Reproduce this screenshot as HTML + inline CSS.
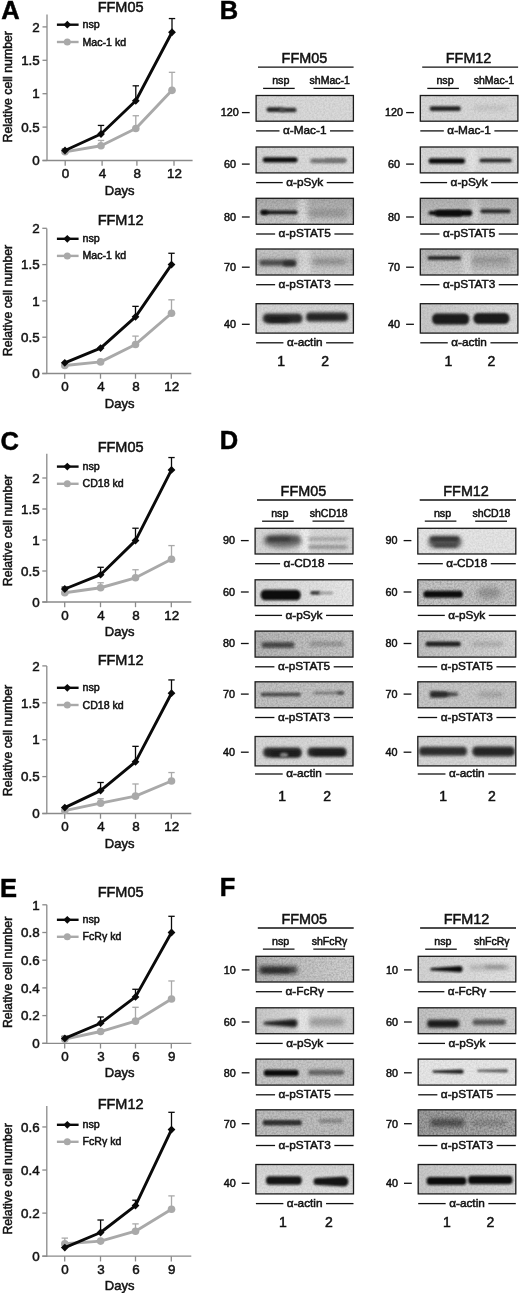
<!DOCTYPE html>
<html><head><meta charset="utf-8"><style>
html,body{margin:0;padding:0;background:#fff;width:520px;height:1293px;overflow:hidden}
svg{display:block;filter:grayscale(1)}
text{font-family:"Liberation Sans", sans-serif;stroke:#111;stroke-width:0.5px;paint-order:stroke}
</style></head><body>
<svg width="520" height="1293" viewBox="0 0 520 1293">
<defs><filter id="g8" x="-50%" y="-200%" width="200%" height="500%"><feGaussianBlur stdDeviation="0.80"/></filter><filter id="g10" x="-50%" y="-200%" width="200%" height="500%"><feGaussianBlur stdDeviation="1.00"/></filter><filter id="g11" x="-50%" y="-200%" width="200%" height="500%"><feGaussianBlur stdDeviation="1.10"/></filter><filter id="g12" x="-50%" y="-200%" width="200%" height="500%"><feGaussianBlur stdDeviation="1.20"/></filter><filter id="g13" x="-50%" y="-200%" width="200%" height="500%"><feGaussianBlur stdDeviation="1.30"/></filter><filter id="g14" x="-50%" y="-200%" width="200%" height="500%"><feGaussianBlur stdDeviation="1.40"/></filter><filter id="g15" x="-50%" y="-200%" width="200%" height="500%"><feGaussianBlur stdDeviation="1.50"/></filter><filter id="g16" x="-50%" y="-200%" width="200%" height="500%"><feGaussianBlur stdDeviation="1.60"/></filter><filter id="g17" x="-50%" y="-200%" width="200%" height="500%"><feGaussianBlur stdDeviation="1.70"/></filter><filter id="g18" x="-50%" y="-200%" width="200%" height="500%"><feGaussianBlur stdDeviation="1.80"/></filter><filter id="g19" x="-50%" y="-200%" width="200%" height="500%"><feGaussianBlur stdDeviation="1.90"/></filter><filter id="g20" x="-50%" y="-200%" width="200%" height="500%"><feGaussianBlur stdDeviation="2.00"/></filter><filter id="g22" x="-50%" y="-200%" width="200%" height="500%"><feGaussianBlur stdDeviation="2.20"/></filter><filter id="g24" x="-50%" y="-200%" width="200%" height="500%"><feGaussianBlur stdDeviation="2.40"/></filter><filter id="g25" x="-50%" y="-200%" width="200%" height="500%"><feGaussianBlur stdDeviation="2.50"/></filter><linearGradient id="lg2" x1="0" y1="0" x2="1" y2="0"><stop offset="0" stop-color="#d6d6d6"/><stop offset="1" stop-color="#e0e0e0"/></linearGradient><linearGradient id="lg3" x1="0" y1="0" x2="0" y2="1"><stop offset="0" stop-color="#aaaaaa"/><stop offset="0.5" stop-color="#bababa"/><stop offset="1" stop-color="#cccccc"/></linearGradient><linearGradient id="lg4" x1="0" y1="0" x2="0" y2="1"><stop offset="0" stop-color="#cacaca"/><stop offset="0.45" stop-color="#b8b8b8"/><stop offset="1" stop-color="#d0d0d0"/></linearGradient><linearGradient id="lg5" x1="0" y1="0" x2="0" y2="1"><stop offset="0" stop-color="#d4d4d4"/><stop offset="1" stop-color="#dcdcdc"/></linearGradient><linearGradient id="lg8" x1="0" y1="0" x2="0" y2="1"><stop offset="0" stop-color="#b2b2b2"/><stop offset="1" stop-color="#c8c8c8"/></linearGradient><linearGradient id="lg9" x1="0" y1="0" x2="0" y2="1"><stop offset="0" stop-color="#b6b6b6"/><stop offset="1" stop-color="#cacaca"/></linearGradient><linearGradient id="lg10" x1="0" y1="0" x2="1" y2="0"><stop offset="0" stop-color="#c8c8c8"/><stop offset="1" stop-color="#dadada"/></linearGradient><linearGradient id="lg12" x1="0" y1="0" x2="1" y2="0"><stop offset="0" stop-color="#d8d8d8"/><stop offset="1" stop-color="#e8e8e8"/></linearGradient><linearGradient id="lg13" x1="0" y1="0" x2="1" y2="0"><stop offset="0" stop-color="#b8b8b8"/><stop offset="1" stop-color="#cacaca"/></linearGradient><linearGradient id="lg18" x1="0" y1="0" x2="1" y2="0"><stop offset="0" stop-color="#c2c2c2"/><stop offset="1" stop-color="#d8d8d8"/></linearGradient><linearGradient id="lg21" x1="0" y1="0" x2="1" y2="0"><stop offset="0" stop-color="#b6b6b6"/><stop offset="0.5" stop-color="#c6c6c6"/><stop offset="1" stop-color="#d2d2d2"/></linearGradient><linearGradient id="lg22" x1="0" y1="0" x2="1" y2="0"><stop offset="0" stop-color="#c8c8c8"/><stop offset="0.45" stop-color="#dadada"/><stop offset="1" stop-color="#d4d4d4"/></linearGradient><linearGradient id="lg25" x1="0" y1="0" x2="0" y2="1"><stop offset="0" stop-color="#d4d4d4"/><stop offset="1" stop-color="#e0e0e0"/></linearGradient><linearGradient id="lg26" x1="0" y1="0" x2="1" y2="0"><stop offset="0" stop-color="#d4d4d4"/><stop offset="1" stop-color="#e2e2e2"/></linearGradient><linearGradient id="lg27" x1="0" y1="0" x2="1" y2="0"><stop offset="0" stop-color="#c4c4c4"/><stop offset="1" stop-color="#d4d4d4"/></linearGradient><linearGradient id="lg29" x1="0" y1="0" x2="1" y2="0"><stop offset="0" stop-color="#a0a0a0"/><stop offset="1" stop-color="#b0b0b0"/></linearGradient><linearGradient id="lg30" x1="0" y1="0" x2="1" y2="0"><stop offset="0" stop-color="#c8c8c8"/><stop offset="1" stop-color="#d8d8d8"/></linearGradient><filter id="nz" x="0" y="0" width="100%" height="100%"><feTurbulence type="fractalNoise" baseFrequency="0.55" numOctaves="2" seed="7" result="t"/><feColorMatrix in="t" type="matrix" values="0 0 0 0 0  0 0 0 0 0  0 0 0 0 0  0 0 0 -1.6 1.1"/></filter></defs>
<rect width="520" height="1293" fill="#fff"/>
<line x1="47.00" y1="14.40" x2="47.00" y2="161.00" stroke="#8a8a8a" stroke-width="1.3" />
<line x1="42.50" y1="160.50" x2="192.60" y2="160.50" stroke="#8a8a8a" stroke-width="1.3" />
<line x1="42.50" y1="160.50" x2="47.00" y2="160.50" stroke="#8a8a8a" stroke-width="1.3" />
<text x="39.80" y="165.25" font-size="13.4" text-anchor="end" fill="#111" >0</text>
<line x1="42.50" y1="127.10" x2="47.00" y2="127.10" stroke="#8a8a8a" stroke-width="1.3" />
<text x="39.80" y="131.85" font-size="13.4" text-anchor="end" fill="#111" >0.5</text>
<line x1="42.50" y1="93.70" x2="47.00" y2="93.70" stroke="#8a8a8a" stroke-width="1.3" />
<text x="39.80" y="98.45" font-size="13.4" text-anchor="end" fill="#111" >1</text>
<line x1="42.50" y1="60.30" x2="47.00" y2="60.30" stroke="#8a8a8a" stroke-width="1.3" />
<text x="39.80" y="65.05" font-size="13.4" text-anchor="end" fill="#111" >1.5</text>
<line x1="42.50" y1="26.90" x2="47.00" y2="26.90" stroke="#8a8a8a" stroke-width="1.3" />
<text x="39.80" y="31.65" font-size="13.4" text-anchor="end" fill="#111" >2</text>
<line x1="65.20" y1="160.50" x2="65.20" y2="165.70" stroke="#8a8a8a" stroke-width="1.3" />
<text x="65.60" y="178.00" font-size="13.4" text-anchor="middle" fill="#111" >0</text>
<line x1="102.10" y1="160.50" x2="102.10" y2="165.70" stroke="#8a8a8a" stroke-width="1.3" />
<text x="102.50" y="178.00" font-size="13.4" text-anchor="middle" fill="#111" >4</text>
<line x1="136.90" y1="160.50" x2="136.90" y2="165.70" stroke="#8a8a8a" stroke-width="1.3" />
<text x="137.30" y="178.00" font-size="13.4" text-anchor="middle" fill="#111" >8</text>
<line x1="174.00" y1="160.50" x2="174.00" y2="165.70" stroke="#8a8a8a" stroke-width="1.3" />
<text x="174.40" y="178.00" font-size="13.4" text-anchor="middle" fill="#111" >12</text>
<text x="119.60" y="194.50" font-size="13.0" text-anchor="middle" fill="#111" >Days</text>
<text x="120.60" y="11.90" font-size="14.5" text-anchor="middle" fill="#111" >FFM05</text>
<text transform="translate(12.4,86.80) rotate(-90)" font-size="12.3" text-anchor="middle" fill="#111">Relative cell number</text>
<line x1="56.90" y1="24.70" x2="78.60" y2="24.70" stroke="#0a0a0a" stroke-width="2.4" />
<polygon points="63.40,24.70 67.30,20.80 71.20,24.70 67.30,28.60" fill="#0a0a0a"/>
<text x="82.50" y="27.80" font-size="10.7" text-anchor="start" fill="#111" >nsp</text>
<line x1="56.90" y1="42.00" x2="78.60" y2="42.00" stroke="#a9a9a9" stroke-width="2.4" />
<circle cx="67.3" cy="42.00" r="3.5" fill="#a9a9a9"/>
<text x="82.50" y="45.50" font-size="10.6" text-anchor="start" fill="#111" >Mac-1 kd</text>
<line x1="101.00" y1="145.80" x2="101.00" y2="140.46" stroke="#a9a9a9" stroke-width="1.3" />
<line x1="97.80" y1="140.46" x2="104.20" y2="140.46" stroke="#a9a9a9" stroke-width="1.3" />
<line x1="135.80" y1="128.44" x2="135.80" y2="115.74" stroke="#a9a9a9" stroke-width="1.3" />
<line x1="132.60" y1="115.74" x2="139.00" y2="115.74" stroke="#a9a9a9" stroke-width="1.3" />
<line x1="172.00" y1="90.36" x2="172.00" y2="72.32" stroke="#a9a9a9" stroke-width="1.3" />
<line x1="168.80" y1="72.32" x2="175.20" y2="72.32" stroke="#a9a9a9" stroke-width="1.3" />
<line x1="65.00" y1="150.48" x2="65.00" y2="149.14" stroke="#0a0a0a" stroke-width="1.3" />
<line x1="61.80" y1="149.14" x2="68.20" y2="149.14" stroke="#0a0a0a" stroke-width="1.3" />
<line x1="101.00" y1="133.98" x2="101.00" y2="125.43" stroke="#0a0a0a" stroke-width="1.3" />
<line x1="97.80" y1="125.43" x2="104.20" y2="125.43" stroke="#0a0a0a" stroke-width="1.3" />
<line x1="135.80" y1="100.78" x2="135.80" y2="85.82" stroke="#0a0a0a" stroke-width="1.3" />
<line x1="132.60" y1="85.82" x2="139.00" y2="85.82" stroke="#0a0a0a" stroke-width="1.3" />
<line x1="172.00" y1="32.24" x2="172.00" y2="18.55" stroke="#0a0a0a" stroke-width="1.3" />
<line x1="168.80" y1="18.55" x2="175.20" y2="18.55" stroke="#0a0a0a" stroke-width="1.3" />
<polyline points="65.00,151.82 101.00,145.80 135.80,128.44 172.00,90.36" fill="none" stroke="#a9a9a9" stroke-width="2.9" stroke-linejoin="round"/>
<circle cx="65.00" cy="151.82" r="3.8" fill="#a9a9a9"/>
<circle cx="101.00" cy="145.80" r="3.8" fill="#a9a9a9"/>
<circle cx="135.80" cy="128.44" r="3.8" fill="#a9a9a9"/>
<circle cx="172.00" cy="90.36" r="3.8" fill="#a9a9a9"/>
<polyline points="65.00,150.48 101.00,133.98 135.80,100.78 172.00,32.24" fill="none" stroke="#0a0a0a" stroke-width="2.9" stroke-linejoin="round"/>
<polygon points="61.10,150.48 65.00,146.58 68.90,150.48 65.00,154.38" fill="#0a0a0a"/>
<polygon points="97.10,133.98 101.00,130.08 104.90,133.98 101.00,137.88" fill="#0a0a0a"/>
<polygon points="131.90,100.78 135.80,96.88 139.70,100.78 135.80,104.68" fill="#0a0a0a"/>
<polygon points="168.10,32.24 172.00,28.34 175.90,32.24 172.00,36.14" fill="#0a0a0a"/>
<line x1="46.80" y1="228.40" x2="46.80" y2="374.00" stroke="#8a8a8a" stroke-width="1.3" />
<line x1="42.30" y1="373.50" x2="191.30" y2="373.50" stroke="#8a8a8a" stroke-width="1.3" />
<line x1="42.30" y1="373.50" x2="46.80" y2="373.50" stroke="#8a8a8a" stroke-width="1.3" />
<text x="39.60" y="378.25" font-size="13.4" text-anchor="end" fill="#111" >0</text>
<line x1="42.30" y1="337.20" x2="46.80" y2="337.20" stroke="#8a8a8a" stroke-width="1.3" />
<text x="39.60" y="341.95" font-size="13.4" text-anchor="end" fill="#111" >0.5</text>
<line x1="42.30" y1="300.90" x2="46.80" y2="300.90" stroke="#8a8a8a" stroke-width="1.3" />
<text x="39.60" y="305.65" font-size="13.4" text-anchor="end" fill="#111" >1</text>
<line x1="42.30" y1="264.60" x2="46.80" y2="264.60" stroke="#8a8a8a" stroke-width="1.3" />
<text x="39.60" y="269.35" font-size="13.4" text-anchor="end" fill="#111" >1.5</text>
<line x1="42.30" y1="228.30" x2="46.80" y2="228.30" stroke="#8a8a8a" stroke-width="1.3" />
<text x="39.60" y="233.05" font-size="13.4" text-anchor="end" fill="#111" >2</text>
<line x1="64.70" y1="373.50" x2="64.70" y2="378.70" stroke="#8a8a8a" stroke-width="1.3" />
<text x="65.10" y="391.00" font-size="13.4" text-anchor="middle" fill="#111" >0</text>
<line x1="100.50" y1="373.50" x2="100.50" y2="378.70" stroke="#8a8a8a" stroke-width="1.3" />
<text x="100.90" y="391.00" font-size="13.4" text-anchor="middle" fill="#111" >4</text>
<line x1="135.50" y1="373.50" x2="135.50" y2="378.70" stroke="#8a8a8a" stroke-width="1.3" />
<text x="135.90" y="391.00" font-size="13.4" text-anchor="middle" fill="#111" >8</text>
<line x1="171.30" y1="373.50" x2="171.30" y2="378.70" stroke="#8a8a8a" stroke-width="1.3" />
<text x="171.70" y="391.00" font-size="13.4" text-anchor="middle" fill="#111" >12</text>
<text x="119.60" y="407.50" font-size="13.0" text-anchor="middle" fill="#111" >Days</text>
<text x="120.60" y="224.60" font-size="14.5" text-anchor="middle" fill="#111" >FFM12</text>
<text transform="translate(12.4,300.50) rotate(-90)" font-size="12.3" text-anchor="middle" fill="#111">Relative cell number</text>
<line x1="56.90" y1="238.80" x2="78.60" y2="238.80" stroke="#0a0a0a" stroke-width="2.4" />
<polygon points="63.40,238.80 67.30,234.90 71.20,238.80 67.30,242.70" fill="#0a0a0a"/>
<text x="82.50" y="241.90" font-size="10.7" text-anchor="start" fill="#111" >nsp</text>
<line x1="56.90" y1="255.90" x2="78.60" y2="255.90" stroke="#a9a9a9" stroke-width="2.4" />
<circle cx="67.3" cy="255.90" r="3.5" fill="#a9a9a9"/>
<text x="82.50" y="259.40" font-size="10.6" text-anchor="start" fill="#111" >Mac-1 kd</text>
<line x1="135.50" y1="344.46" x2="135.50" y2="336.11" stroke="#a9a9a9" stroke-width="1.3" />
<line x1="132.30" y1="336.11" x2="138.70" y2="336.11" stroke="#a9a9a9" stroke-width="1.3" />
<line x1="171.50" y1="313.24" x2="171.50" y2="299.81" stroke="#a9a9a9" stroke-width="1.3" />
<line x1="168.30" y1="299.81" x2="174.70" y2="299.81" stroke="#a9a9a9" stroke-width="1.3" />
<line x1="135.50" y1="316.87" x2="135.50" y2="306.35" stroke="#0a0a0a" stroke-width="1.3" />
<line x1="132.30" y1="306.35" x2="138.70" y2="306.35" stroke="#0a0a0a" stroke-width="1.3" />
<line x1="171.50" y1="264.60" x2="171.50" y2="253.27" stroke="#0a0a0a" stroke-width="1.3" />
<line x1="168.30" y1="253.27" x2="174.70" y2="253.27" stroke="#0a0a0a" stroke-width="1.3" />
<polyline points="64.80,365.51 100.60,361.88 135.50,344.46 171.50,313.24" fill="none" stroke="#a9a9a9" stroke-width="2.9" stroke-linejoin="round"/>
<circle cx="64.80" cy="365.51" r="3.8" fill="#a9a9a9"/>
<circle cx="100.60" cy="361.88" r="3.8" fill="#a9a9a9"/>
<circle cx="135.50" cy="344.46" r="3.8" fill="#a9a9a9"/>
<circle cx="171.50" cy="313.24" r="3.8" fill="#a9a9a9"/>
<polyline points="64.80,362.83 100.60,348.09 135.50,316.87 171.50,264.60" fill="none" stroke="#0a0a0a" stroke-width="2.9" stroke-linejoin="round"/>
<polygon points="60.90,362.83 64.80,358.93 68.70,362.83 64.80,366.73" fill="#0a0a0a"/>
<polygon points="96.70,348.09 100.60,344.19 104.50,348.09 100.60,351.99" fill="#0a0a0a"/>
<polygon points="131.60,316.87 135.50,312.97 139.40,316.87 135.50,320.77" fill="#0a0a0a"/>
<polygon points="167.60,264.60 171.50,260.70 175.40,264.60 171.50,268.50" fill="#0a0a0a"/>
<line x1="46.80" y1="453.70" x2="46.80" y2="602.50" stroke="#8a8a8a" stroke-width="1.3" />
<line x1="42.30" y1="602.00" x2="191.30" y2="602.00" stroke="#8a8a8a" stroke-width="1.3" />
<line x1="42.30" y1="602.00" x2="46.80" y2="602.00" stroke="#8a8a8a" stroke-width="1.3" />
<text x="39.60" y="606.75" font-size="13.4" text-anchor="end" fill="#111" >0</text>
<line x1="42.30" y1="571.00" x2="46.80" y2="571.00" stroke="#8a8a8a" stroke-width="1.3" />
<text x="39.60" y="575.75" font-size="13.4" text-anchor="end" fill="#111" >0.5</text>
<line x1="42.30" y1="540.00" x2="46.80" y2="540.00" stroke="#8a8a8a" stroke-width="1.3" />
<text x="39.60" y="544.75" font-size="13.4" text-anchor="end" fill="#111" >1</text>
<line x1="42.30" y1="509.00" x2="46.80" y2="509.00" stroke="#8a8a8a" stroke-width="1.3" />
<text x="39.60" y="513.75" font-size="13.4" text-anchor="end" fill="#111" >1.5</text>
<line x1="42.30" y1="478.00" x2="46.80" y2="478.00" stroke="#8a8a8a" stroke-width="1.3" />
<text x="39.60" y="482.75" font-size="13.4" text-anchor="end" fill="#111" >2</text>
<line x1="64.70" y1="602.00" x2="64.70" y2="607.20" stroke="#8a8a8a" stroke-width="1.3" />
<text x="65.10" y="619.50" font-size="13.4" text-anchor="middle" fill="#111" >0</text>
<line x1="100.50" y1="602.00" x2="100.50" y2="607.20" stroke="#8a8a8a" stroke-width="1.3" />
<text x="100.90" y="619.50" font-size="13.4" text-anchor="middle" fill="#111" >4</text>
<line x1="135.50" y1="602.00" x2="135.50" y2="607.20" stroke="#8a8a8a" stroke-width="1.3" />
<text x="135.90" y="619.50" font-size="13.4" text-anchor="middle" fill="#111" >8</text>
<line x1="171.30" y1="602.00" x2="171.30" y2="607.20" stroke="#8a8a8a" stroke-width="1.3" />
<text x="171.70" y="619.50" font-size="13.4" text-anchor="middle" fill="#111" >12</text>
<text x="119.60" y="636.00" font-size="13.0" text-anchor="middle" fill="#111" >Days</text>
<text x="120.60" y="452.10" font-size="14.5" text-anchor="middle" fill="#111" >FFM05</text>
<text transform="translate(12.4,530.50) rotate(-90)" font-size="12.3" text-anchor="middle" fill="#111">Relative cell number</text>
<line x1="56.90" y1="466.60" x2="78.60" y2="466.60" stroke="#0a0a0a" stroke-width="2.4" />
<polygon points="63.40,466.60 67.30,462.70 71.20,466.60 67.30,470.50" fill="#0a0a0a"/>
<text x="82.50" y="469.70" font-size="10.7" text-anchor="start" fill="#111" >nsp</text>
<line x1="56.90" y1="483.80" x2="78.60" y2="483.80" stroke="#a9a9a9" stroke-width="2.4" />
<circle cx="67.3" cy="483.80" r="3.5" fill="#a9a9a9"/>
<text x="82.50" y="487.30" font-size="10.6" text-anchor="start" fill="#111" >CD18 kd</text>
<line x1="100.60" y1="587.74" x2="100.60" y2="582.78" stroke="#a9a9a9" stroke-width="1.3" />
<line x1="97.40" y1="582.78" x2="103.80" y2="582.78" stroke="#a9a9a9" stroke-width="1.3" />
<line x1="135.50" y1="577.82" x2="135.50" y2="569.76" stroke="#a9a9a9" stroke-width="1.3" />
<line x1="132.30" y1="569.76" x2="138.70" y2="569.76" stroke="#a9a9a9" stroke-width="1.3" />
<line x1="171.50" y1="559.22" x2="171.50" y2="545.58" stroke="#a9a9a9" stroke-width="1.3" />
<line x1="168.30" y1="545.58" x2="174.70" y2="545.58" stroke="#a9a9a9" stroke-width="1.3" />
<line x1="64.80" y1="588.98" x2="64.80" y2="587.12" stroke="#0a0a0a" stroke-width="1.3" />
<line x1="61.60" y1="587.12" x2="68.00" y2="587.12" stroke="#0a0a0a" stroke-width="1.3" />
<line x1="100.60" y1="574.72" x2="100.60" y2="567.28" stroke="#0a0a0a" stroke-width="1.3" />
<line x1="97.40" y1="567.28" x2="103.80" y2="567.28" stroke="#0a0a0a" stroke-width="1.3" />
<line x1="135.50" y1="540.62" x2="135.50" y2="528.22" stroke="#0a0a0a" stroke-width="1.3" />
<line x1="132.30" y1="528.22" x2="138.70" y2="528.22" stroke="#0a0a0a" stroke-width="1.3" />
<line x1="171.50" y1="469.94" x2="171.50" y2="457.54" stroke="#0a0a0a" stroke-width="1.3" />
<line x1="168.30" y1="457.54" x2="174.70" y2="457.54" stroke="#0a0a0a" stroke-width="1.3" />
<polyline points="64.80,592.70 100.60,587.74 135.50,577.82 171.50,559.22" fill="none" stroke="#a9a9a9" stroke-width="2.9" stroke-linejoin="round"/>
<circle cx="64.80" cy="592.70" r="3.8" fill="#a9a9a9"/>
<circle cx="100.60" cy="587.74" r="3.8" fill="#a9a9a9"/>
<circle cx="135.50" cy="577.82" r="3.8" fill="#a9a9a9"/>
<circle cx="171.50" cy="559.22" r="3.8" fill="#a9a9a9"/>
<polyline points="64.80,588.98 100.60,574.72 135.50,540.62 171.50,469.94" fill="none" stroke="#0a0a0a" stroke-width="2.9" stroke-linejoin="round"/>
<polygon points="60.90,588.98 64.80,585.08 68.70,588.98 64.80,592.88" fill="#0a0a0a"/>
<polygon points="96.70,574.72 100.60,570.82 104.50,574.72 100.60,578.62" fill="#0a0a0a"/>
<polygon points="131.60,540.62 135.50,536.72 139.40,540.62 135.50,544.52" fill="#0a0a0a"/>
<polygon points="167.60,469.94 171.50,466.04 175.40,469.94 171.50,473.84" fill="#0a0a0a"/>
<line x1="46.80" y1="665.90" x2="46.80" y2="814.00" stroke="#8a8a8a" stroke-width="1.3" />
<line x1="42.30" y1="813.50" x2="191.30" y2="813.50" stroke="#8a8a8a" stroke-width="1.3" />
<line x1="42.30" y1="813.50" x2="46.80" y2="813.50" stroke="#8a8a8a" stroke-width="1.3" />
<text x="39.60" y="818.25" font-size="13.4" text-anchor="end" fill="#111" >0</text>
<line x1="42.30" y1="776.60" x2="46.80" y2="776.60" stroke="#8a8a8a" stroke-width="1.3" />
<text x="39.60" y="781.35" font-size="13.4" text-anchor="end" fill="#111" >0.5</text>
<line x1="42.30" y1="739.70" x2="46.80" y2="739.70" stroke="#8a8a8a" stroke-width="1.3" />
<text x="39.60" y="744.45" font-size="13.4" text-anchor="end" fill="#111" >1</text>
<line x1="42.30" y1="702.80" x2="46.80" y2="702.80" stroke="#8a8a8a" stroke-width="1.3" />
<text x="39.60" y="707.55" font-size="13.4" text-anchor="end" fill="#111" >1.5</text>
<line x1="42.30" y1="665.90" x2="46.80" y2="665.90" stroke="#8a8a8a" stroke-width="1.3" />
<text x="39.60" y="670.65" font-size="13.4" text-anchor="end" fill="#111" >2</text>
<line x1="64.70" y1="813.50" x2="64.70" y2="818.70" stroke="#8a8a8a" stroke-width="1.3" />
<text x="65.10" y="831.00" font-size="13.4" text-anchor="middle" fill="#111" >0</text>
<line x1="100.50" y1="813.50" x2="100.50" y2="818.70" stroke="#8a8a8a" stroke-width="1.3" />
<text x="100.90" y="831.00" font-size="13.4" text-anchor="middle" fill="#111" >4</text>
<line x1="135.50" y1="813.50" x2="135.50" y2="818.70" stroke="#8a8a8a" stroke-width="1.3" />
<text x="135.90" y="831.00" font-size="13.4" text-anchor="middle" fill="#111" >8</text>
<line x1="171.30" y1="813.50" x2="171.30" y2="818.70" stroke="#8a8a8a" stroke-width="1.3" />
<text x="171.70" y="831.00" font-size="13.4" text-anchor="middle" fill="#111" >12</text>
<text x="119.60" y="847.50" font-size="13.0" text-anchor="middle" fill="#111" >Days</text>
<text x="120.60" y="664.80" font-size="14.5" text-anchor="middle" fill="#111" >FFM12</text>
<text transform="translate(12.4,740.50) rotate(-90)" font-size="12.3" text-anchor="middle" fill="#111">Relative cell number</text>
<line x1="56.90" y1="687.80" x2="78.60" y2="687.80" stroke="#0a0a0a" stroke-width="2.4" />
<polygon points="63.40,687.80 67.30,683.90 71.20,687.80 67.30,691.70" fill="#0a0a0a"/>
<text x="82.50" y="690.90" font-size="10.7" text-anchor="start" fill="#111" >nsp</text>
<line x1="56.90" y1="705.00" x2="78.60" y2="705.00" stroke="#a9a9a9" stroke-width="2.4" />
<circle cx="67.3" cy="705.00" r="3.5" fill="#a9a9a9"/>
<text x="82.50" y="708.50" font-size="10.6" text-anchor="start" fill="#111" >CD18 kd</text>
<line x1="100.60" y1="803.17" x2="100.60" y2="798.74" stroke="#a9a9a9" stroke-width="1.3" />
<line x1="97.40" y1="798.74" x2="103.80" y2="798.74" stroke="#a9a9a9" stroke-width="1.3" />
<line x1="135.50" y1="796.16" x2="135.50" y2="783.98" stroke="#a9a9a9" stroke-width="1.3" />
<line x1="132.30" y1="783.98" x2="138.70" y2="783.98" stroke="#a9a9a9" stroke-width="1.3" />
<line x1="171.50" y1="781.03" x2="171.50" y2="772.54" stroke="#a9a9a9" stroke-width="1.3" />
<line x1="168.30" y1="772.54" x2="174.70" y2="772.54" stroke="#a9a9a9" stroke-width="1.3" />
<line x1="100.60" y1="790.62" x2="100.60" y2="782.50" stroke="#0a0a0a" stroke-width="1.3" />
<line x1="97.40" y1="782.50" x2="103.80" y2="782.50" stroke="#0a0a0a" stroke-width="1.3" />
<line x1="135.50" y1="761.84" x2="135.50" y2="746.34" stroke="#0a0a0a" stroke-width="1.3" />
<line x1="132.30" y1="746.34" x2="138.70" y2="746.34" stroke="#0a0a0a" stroke-width="1.3" />
<line x1="171.50" y1="693.21" x2="171.50" y2="679.92" stroke="#0a0a0a" stroke-width="1.3" />
<line x1="168.30" y1="679.92" x2="174.70" y2="679.92" stroke="#0a0a0a" stroke-width="1.3" />
<polyline points="64.80,810.55 100.60,803.17 135.50,796.16 171.50,781.03" fill="none" stroke="#a9a9a9" stroke-width="2.9" stroke-linejoin="round"/>
<circle cx="64.80" cy="810.55" r="3.8" fill="#a9a9a9"/>
<circle cx="100.60" cy="803.17" r="3.8" fill="#a9a9a9"/>
<circle cx="135.50" cy="796.16" r="3.8" fill="#a9a9a9"/>
<circle cx="171.50" cy="781.03" r="3.8" fill="#a9a9a9"/>
<polyline points="64.80,807.60 100.60,790.62 135.50,761.84 171.50,693.21" fill="none" stroke="#0a0a0a" stroke-width="2.9" stroke-linejoin="round"/>
<polygon points="60.90,807.60 64.80,803.70 68.70,807.60 64.80,811.50" fill="#0a0a0a"/>
<polygon points="96.70,790.62 100.60,786.72 104.50,790.62 100.60,794.52" fill="#0a0a0a"/>
<polygon points="131.60,761.84 135.50,757.94 139.40,761.84 135.50,765.74" fill="#0a0a0a"/>
<polygon points="167.60,693.21 171.50,689.31 175.40,693.21 171.50,697.11" fill="#0a0a0a"/>
<line x1="46.80" y1="904.70" x2="46.80" y2="1043.80" stroke="#8a8a8a" stroke-width="1.3" />
<line x1="42.30" y1="1043.30" x2="191.30" y2="1043.30" stroke="#8a8a8a" stroke-width="1.3" />
<line x1="42.30" y1="1043.30" x2="46.80" y2="1043.30" stroke="#8a8a8a" stroke-width="1.3" />
<text x="39.60" y="1048.05" font-size="13.4" text-anchor="end" fill="#111" >0</text>
<line x1="42.30" y1="1015.60" x2="46.80" y2="1015.60" stroke="#8a8a8a" stroke-width="1.3" />
<text x="39.60" y="1020.35" font-size="13.4" text-anchor="end" fill="#111" >0.2</text>
<line x1="42.30" y1="987.90" x2="46.80" y2="987.90" stroke="#8a8a8a" stroke-width="1.3" />
<text x="39.60" y="992.65" font-size="13.4" text-anchor="end" fill="#111" >0.4</text>
<line x1="42.30" y1="960.20" x2="46.80" y2="960.20" stroke="#8a8a8a" stroke-width="1.3" />
<text x="39.60" y="964.95" font-size="13.4" text-anchor="end" fill="#111" >0.6</text>
<line x1="42.30" y1="932.50" x2="46.80" y2="932.50" stroke="#8a8a8a" stroke-width="1.3" />
<text x="39.60" y="937.25" font-size="13.4" text-anchor="end" fill="#111" >0.8</text>
<line x1="42.30" y1="904.80" x2="46.80" y2="904.80" stroke="#8a8a8a" stroke-width="1.3" />
<text x="39.60" y="909.55" font-size="13.4" text-anchor="end" fill="#111" >1</text>
<line x1="64.70" y1="1043.30" x2="64.70" y2="1048.50" stroke="#8a8a8a" stroke-width="1.3" />
<text x="65.10" y="1060.80" font-size="13.4" text-anchor="middle" fill="#111" >0</text>
<line x1="100.50" y1="1043.30" x2="100.50" y2="1048.50" stroke="#8a8a8a" stroke-width="1.3" />
<text x="100.90" y="1060.80" font-size="13.4" text-anchor="middle" fill="#111" >3</text>
<line x1="135.50" y1="1043.30" x2="135.50" y2="1048.50" stroke="#8a8a8a" stroke-width="1.3" />
<text x="135.90" y="1060.80" font-size="13.4" text-anchor="middle" fill="#111" >6</text>
<line x1="171.30" y1="1043.30" x2="171.30" y2="1048.50" stroke="#8a8a8a" stroke-width="1.3" />
<text x="171.70" y="1060.80" font-size="13.4" text-anchor="middle" fill="#111" >9</text>
<text x="119.60" y="1077.30" font-size="13.0" text-anchor="middle" fill="#111" >Days</text>
<text x="120.60" y="897.20" font-size="14.5" text-anchor="middle" fill="#111" >FFM05</text>
<text transform="translate(12.4,972.40) rotate(-90)" font-size="12.3" text-anchor="middle" fill="#111">Relative cell number</text>
<line x1="56.90" y1="919.80" x2="78.60" y2="919.80" stroke="#0a0a0a" stroke-width="2.4" />
<polygon points="63.40,919.80 67.30,915.90 71.20,919.80 67.30,923.70" fill="#0a0a0a"/>
<text x="82.50" y="922.90" font-size="10.7" text-anchor="start" fill="#111" >nsp</text>
<line x1="56.90" y1="936.80" x2="78.60" y2="936.80" stroke="#a9a9a9" stroke-width="2.4" />
<circle cx="67.3" cy="936.80" r="3.5" fill="#a9a9a9"/>
<text x="82.50" y="940.30" font-size="10.6" text-anchor="start" fill="#111" >FcRγ kd</text>
<line x1="64.80" y1="1039.14" x2="64.80" y2="1036.38" stroke="#a9a9a9" stroke-width="1.3" />
<line x1="61.60" y1="1036.38" x2="68.00" y2="1036.38" stroke="#a9a9a9" stroke-width="1.3" />
<line x1="135.50" y1="1021.14" x2="135.50" y2="1007.29" stroke="#a9a9a9" stroke-width="1.3" />
<line x1="132.30" y1="1007.29" x2="138.70" y2="1007.29" stroke="#a9a9a9" stroke-width="1.3" />
<line x1="171.50" y1="998.98" x2="171.50" y2="980.97" stroke="#a9a9a9" stroke-width="1.3" />
<line x1="168.30" y1="980.97" x2="174.70" y2="980.97" stroke="#a9a9a9" stroke-width="1.3" />
<line x1="64.80" y1="1038.45" x2="64.80" y2="1036.38" stroke="#0a0a0a" stroke-width="1.3" />
<line x1="61.60" y1="1036.38" x2="68.00" y2="1036.38" stroke="#0a0a0a" stroke-width="1.3" />
<line x1="100.60" y1="1023.22" x2="100.60" y2="1016.98" stroke="#0a0a0a" stroke-width="1.3" />
<line x1="97.40" y1="1016.98" x2="103.80" y2="1016.98" stroke="#0a0a0a" stroke-width="1.3" />
<line x1="135.50" y1="996.90" x2="135.50" y2="989.28" stroke="#0a0a0a" stroke-width="1.3" />
<line x1="132.30" y1="989.28" x2="138.70" y2="989.28" stroke="#0a0a0a" stroke-width="1.3" />
<line x1="171.50" y1="932.50" x2="171.50" y2="916.30" stroke="#0a0a0a" stroke-width="1.3" />
<line x1="168.30" y1="916.30" x2="174.70" y2="916.30" stroke="#0a0a0a" stroke-width="1.3" />
<polyline points="64.80,1039.14 100.60,1031.53 135.50,1021.14 171.50,998.98" fill="none" stroke="#a9a9a9" stroke-width="2.9" stroke-linejoin="round"/>
<circle cx="64.80" cy="1039.14" r="3.8" fill="#a9a9a9"/>
<circle cx="100.60" cy="1031.53" r="3.8" fill="#a9a9a9"/>
<circle cx="135.50" cy="1021.14" r="3.8" fill="#a9a9a9"/>
<circle cx="171.50" cy="998.98" r="3.8" fill="#a9a9a9"/>
<polyline points="64.80,1038.45 100.60,1023.22 135.50,996.90 171.50,932.50" fill="none" stroke="#0a0a0a" stroke-width="2.9" stroke-linejoin="round"/>
<polygon points="60.90,1038.45 64.80,1034.55 68.70,1038.45 64.80,1042.35" fill="#0a0a0a"/>
<polygon points="96.70,1023.22 100.60,1019.32 104.50,1023.22 100.60,1027.12" fill="#0a0a0a"/>
<polygon points="131.60,996.90 135.50,993.00 139.40,996.90 135.50,1000.80" fill="#0a0a0a"/>
<polygon points="167.60,932.50 171.50,928.60 175.40,932.50 171.50,936.40" fill="#0a0a0a"/>
<line x1="46.80" y1="1105.90" x2="46.80" y2="1256.70" stroke="#8a8a8a" stroke-width="1.3" />
<line x1="42.30" y1="1256.20" x2="191.30" y2="1256.20" stroke="#8a8a8a" stroke-width="1.3" />
<line x1="42.30" y1="1256.20" x2="46.80" y2="1256.20" stroke="#8a8a8a" stroke-width="1.3" />
<text x="39.60" y="1260.95" font-size="13.4" text-anchor="end" fill="#111" >0</text>
<line x1="42.30" y1="1213.12" x2="46.80" y2="1213.12" stroke="#8a8a8a" stroke-width="1.3" />
<text x="39.60" y="1217.87" font-size="13.4" text-anchor="end" fill="#111" >0.2</text>
<line x1="42.30" y1="1170.04" x2="46.80" y2="1170.04" stroke="#8a8a8a" stroke-width="1.3" />
<text x="39.60" y="1174.79" font-size="13.4" text-anchor="end" fill="#111" >0.4</text>
<line x1="42.30" y1="1126.96" x2="46.80" y2="1126.96" stroke="#8a8a8a" stroke-width="1.3" />
<text x="39.60" y="1131.71" font-size="13.4" text-anchor="end" fill="#111" >0.6</text>
<line x1="64.70" y1="1256.20" x2="64.70" y2="1261.40" stroke="#8a8a8a" stroke-width="1.3" />
<text x="65.10" y="1273.70" font-size="13.4" text-anchor="middle" fill="#111" >0</text>
<line x1="100.50" y1="1256.20" x2="100.50" y2="1261.40" stroke="#8a8a8a" stroke-width="1.3" />
<text x="100.90" y="1273.70" font-size="13.4" text-anchor="middle" fill="#111" >3</text>
<line x1="135.50" y1="1256.20" x2="135.50" y2="1261.40" stroke="#8a8a8a" stroke-width="1.3" />
<text x="135.90" y="1273.70" font-size="13.4" text-anchor="middle" fill="#111" >6</text>
<line x1="171.30" y1="1256.20" x2="171.30" y2="1261.40" stroke="#8a8a8a" stroke-width="1.3" />
<text x="171.70" y="1273.70" font-size="13.4" text-anchor="middle" fill="#111" >9</text>
<text x="119.60" y="1290.20" font-size="13.0" text-anchor="middle" fill="#111" >Days</text>
<text x="120.60" y="1109.30" font-size="14.5" text-anchor="middle" fill="#111" >FFM12</text>
<text transform="translate(12.4,1178.90) rotate(-90)" font-size="12.3" text-anchor="middle" fill="#111">Relative cell number</text>
<line x1="56.90" y1="1124.80" x2="78.60" y2="1124.80" stroke="#0a0a0a" stroke-width="2.4" />
<polygon points="63.40,1124.80 67.30,1120.90 71.20,1124.80 67.30,1128.70" fill="#0a0a0a"/>
<text x="82.50" y="1127.90" font-size="10.7" text-anchor="start" fill="#111" >nsp</text>
<line x1="56.90" y1="1141.80" x2="78.60" y2="1141.80" stroke="#a9a9a9" stroke-width="2.4" />
<circle cx="67.3" cy="1141.80" r="3.5" fill="#a9a9a9"/>
<text x="82.50" y="1145.30" font-size="10.6" text-anchor="start" fill="#111" >FcRγ kd</text>
<line x1="64.80" y1="1243.71" x2="64.80" y2="1238.11" stroke="#a9a9a9" stroke-width="1.3" />
<line x1="61.60" y1="1238.11" x2="68.00" y2="1238.11" stroke="#a9a9a9" stroke-width="1.3" />
<line x1="135.50" y1="1231.21" x2="135.50" y2="1223.89" stroke="#a9a9a9" stroke-width="1.3" />
<line x1="132.30" y1="1223.89" x2="138.70" y2="1223.89" stroke="#a9a9a9" stroke-width="1.3" />
<line x1="171.50" y1="1209.24" x2="171.50" y2="1195.89" stroke="#a9a9a9" stroke-width="1.3" />
<line x1="168.30" y1="1195.89" x2="174.70" y2="1195.89" stroke="#a9a9a9" stroke-width="1.3" />
<line x1="100.60" y1="1232.51" x2="100.60" y2="1220.01" stroke="#0a0a0a" stroke-width="1.3" />
<line x1="97.40" y1="1220.01" x2="103.80" y2="1220.01" stroke="#0a0a0a" stroke-width="1.3" />
<line x1="135.50" y1="1205.58" x2="135.50" y2="1200.20" stroke="#0a0a0a" stroke-width="1.3" />
<line x1="132.30" y1="1200.20" x2="138.70" y2="1200.20" stroke="#0a0a0a" stroke-width="1.3" />
<line x1="171.50" y1="1129.54" x2="171.50" y2="1112.31" stroke="#0a0a0a" stroke-width="1.3" />
<line x1="168.30" y1="1112.31" x2="174.70" y2="1112.31" stroke="#0a0a0a" stroke-width="1.3" />
<polyline points="64.80,1243.71 100.60,1241.12 135.50,1231.21 171.50,1209.24" fill="none" stroke="#a9a9a9" stroke-width="2.9" stroke-linejoin="round"/>
<circle cx="64.80" cy="1243.71" r="3.8" fill="#a9a9a9"/>
<circle cx="100.60" cy="1241.12" r="3.8" fill="#a9a9a9"/>
<circle cx="135.50" cy="1231.21" r="3.8" fill="#a9a9a9"/>
<circle cx="171.50" cy="1209.24" r="3.8" fill="#a9a9a9"/>
<polyline points="64.80,1247.58 100.60,1232.51 135.50,1205.58 171.50,1129.54" fill="none" stroke="#0a0a0a" stroke-width="2.9" stroke-linejoin="round"/>
<polygon points="60.90,1247.58 64.80,1243.68 68.70,1247.58 64.80,1251.48" fill="#0a0a0a"/>
<polygon points="96.70,1232.51 100.60,1228.61 104.50,1232.51 100.60,1236.41" fill="#0a0a0a"/>
<polygon points="131.60,1205.58 135.50,1201.68 139.40,1205.58 135.50,1209.48" fill="#0a0a0a"/>
<polygon points="167.60,1129.54 171.50,1125.64 175.40,1129.54 171.50,1133.44" fill="#0a0a0a"/>
<text x="1.30" y="19.20" font-size="25.5" text-anchor="start" font-weight="bold" fill="#000" >A</text>
<text x="219.70" y="19.20" font-size="25.5" text-anchor="start" font-weight="bold" fill="#000" >B</text>
<text x="0.40" y="449.90" font-size="25.5" text-anchor="start" font-weight="bold" fill="#000" >C</text>
<text x="219.70" y="449.10" font-size="25.5" text-anchor="start" font-weight="bold" fill="#000" >D</text>
<text x="0.00" y="896.60" font-size="25.5" text-anchor="start" font-weight="bold" fill="#000" >E</text>
<text x="219.70" y="896.00" font-size="25.5" text-anchor="start" font-weight="bold" fill="#000" >F</text>
<text x="304.40" y="62.80" font-size="14.4" text-anchor="middle" fill="#111" >FFM05</text>
<line x1="258.00" y1="67.20" x2="353.60" y2="67.20" stroke="#111" stroke-width="1.3" />
<text x="280.80" y="83.70" font-size="10.7" text-anchor="middle" fill="#111" >nsp</text>
<line x1="263.10" y1="88.40" x2="294.70" y2="88.40" stroke="#111" stroke-width="1.3" />
<text x="329.70" y="83.70" font-size="10.5" text-anchor="middle" fill="#111" >shMac-1</text>
<line x1="313.50" y1="88.40" x2="345.30" y2="88.40" stroke="#111" stroke-width="1.3" />
<text x="238.80" y="116.40" font-size="10.8" text-anchor="end" fill="#111" >120</text>
<line x1="241.90" y1="112.60" x2="249.70" y2="112.60" stroke="#111" stroke-width="1.3" />
<text x="304.75" y="134.10" font-size="11.8" text-anchor="middle" fill="#111" >α-Mac-1</text>
<line x1="256.10" y1="130.90" x2="279.48" y2="130.90" stroke="#111" stroke-width="1.3" />
<line x1="330.02" y1="130.90" x2="353.40" y2="130.90" stroke="#111" stroke-width="1.3" />
<clipPath id="c0"><rect x="256.10" y="95.50" width="97.30" height="25.70"/></clipPath>
<rect x="256.10" y="95.50" width="97.30" height="25.70" fill="#dadada"/>
<g clip-path="url(#c0)">
<rect x="266.50" y="107.20" width="16.00" height="4.80" rx="1.92" ry="2.40" fill="#262626" opacity="1.0" filter="url(#g11)"/>
<rect x="280.50" y="107.65" width="16.00" height="4.50" rx="1.80" ry="2.25" fill="#2e2e2e" opacity="1.0" filter="url(#g11)"/>
<rect x="279.00" y="108.30" width="6.00" height="3.00" rx="1.20" ry="1.50" fill="#555" opacity="1.0" filter="url(#g8)"/>
<rect x="256.10" y="95.50" width="97.30" height="25.70" fill="#fff" filter="url(#nz)" opacity="0.1"/>
</g>
<rect x="256.10" y="95.50" width="97.30" height="25.70" fill="none" stroke="#1a1a1a" stroke-width="1.3"/>
<text x="235.90" y="167.90" font-size="10.8" text-anchor="end" fill="#111" >60</text>
<line x1="241.90" y1="164.10" x2="249.70" y2="164.10" stroke="#111" stroke-width="1.3" />
<text x="304.75" y="185.80" font-size="11.8" text-anchor="middle" fill="#111" >α-pSyk</text>
<line x1="256.10" y1="182.60" x2="282.76" y2="182.60" stroke="#111" stroke-width="1.3" />
<line x1="326.74" y1="182.60" x2="353.40" y2="182.60" stroke="#111" stroke-width="1.3" />
<clipPath id="c1"><rect x="256.10" y="147.00" width="97.30" height="25.90"/></clipPath>
<rect x="256.10" y="147.00" width="97.30" height="25.90" fill="url(#lg2)"/>
<g clip-path="url(#c1)">
<rect x="262.70" y="157.20" width="34.90" height="5.20" rx="2.08" ry="2.60" fill="#111" opacity="1.0" filter="url(#g12)"/>
<rect x="310.30" y="158.70" width="36.00" height="4.20" rx="1.68" ry="2.10" fill="#6a6a6a" opacity="1.0" filter="url(#g14)"/>
<rect x="325.00" y="158.50" width="21.30" height="3.00" rx="1.20" ry="1.50" fill="#777" opacity="1.0" filter="url(#g12)"/>
<rect x="256.10" y="147.00" width="97.30" height="25.90" fill="#fff" filter="url(#nz)" opacity="0.1"/>
</g>
<rect x="256.10" y="147.00" width="97.30" height="25.90" fill="none" stroke="#1a1a1a" stroke-width="1.3"/>
<text x="235.90" y="220.80" font-size="10.8" text-anchor="end" fill="#111" >80</text>
<line x1="241.90" y1="217.00" x2="249.70" y2="217.00" stroke="#111" stroke-width="1.3" />
<text x="304.75" y="237.20" font-size="11.8" text-anchor="middle" fill="#111" >α-pSTAT5</text>
<line x1="256.10" y1="234.00" x2="275.11" y2="234.00" stroke="#111" stroke-width="1.3" />
<line x1="334.39" y1="234.00" x2="353.40" y2="234.00" stroke="#111" stroke-width="1.3" />
<clipPath id="c2"><rect x="256.10" y="198.30" width="97.30" height="26.00"/></clipPath>
<rect x="256.10" y="198.30" width="97.30" height="26.00" fill="url(#lg3)"/>
<g clip-path="url(#c2)">
<rect x="297.50" y="198.3" width="10.00" height="26.0" fill="#fff" opacity="0.45" filter="url(#g20)"/>
<rect x="260.60" y="210.60" width="37.00" height="3.60" rx="1.44" ry="1.80" fill="#151515" opacity="1.0" filter="url(#g10)"/>
<rect x="261.00" y="210.35" width="7.00" height="4.50" rx="1.80" ry="2.25" fill="#111" opacity="1.0" filter="url(#g10)"/>
<rect x="309.00" y="209.00" width="38.00" height="8.00" rx="3.20" ry="4.00" fill="#9a9a9a" opacity="1.0" filter="url(#g25)"/>
<rect x="256.10" y="198.30" width="97.30" height="26.00" fill="#fff" filter="url(#nz)" opacity="0.16"/>
</g>
<rect x="256.10" y="198.30" width="97.30" height="26.00" fill="none" stroke="#1a1a1a" stroke-width="1.3"/>
<text x="235.90" y="271.00" font-size="10.8" text-anchor="end" fill="#111" >70</text>
<line x1="241.90" y1="267.20" x2="249.70" y2="267.20" stroke="#111" stroke-width="1.3" />
<text x="304.75" y="287.90" font-size="11.8" text-anchor="middle" fill="#111" >α-pSTAT3</text>
<line x1="256.10" y1="284.70" x2="275.11" y2="284.70" stroke="#111" stroke-width="1.3" />
<line x1="334.39" y1="284.70" x2="353.40" y2="284.70" stroke="#111" stroke-width="1.3" />
<clipPath id="c3"><rect x="256.10" y="249.00" width="97.30" height="26.00"/></clipPath>
<rect x="256.10" y="249.00" width="97.30" height="26.00" fill="url(#lg4)"/>
<g clip-path="url(#c3)">
<rect x="298.50" y="249.0" width="12.00" height="26.0" fill="#fff" opacity="0.40" filter="url(#g20)"/>
<rect x="259.50" y="259.80" width="36.00" height="6.00" rx="2.40" ry="3.00" fill="#505050" opacity="1.0" filter="url(#g17)"/>
<rect x="283.00" y="260.65" width="13.00" height="5.50" rx="2.20" ry="2.75" fill="#2e2e2e" opacity="1.0" filter="url(#g14)"/>
<rect x="313.50" y="259.30" width="31.70" height="5.00" rx="2.00" ry="2.50" fill="#8e8e8e" opacity="1.0" filter="url(#g19)"/>
<rect x="256.10" y="249.00" width="97.30" height="26.00" fill="#fff" filter="url(#nz)" opacity="0.14"/>
</g>
<rect x="256.10" y="249.00" width="97.30" height="26.00" fill="none" stroke="#1a1a1a" stroke-width="1.3"/>
<text x="235.90" y="328.10" font-size="10.8" text-anchor="end" fill="#111" >40</text>
<line x1="241.90" y1="324.30" x2="249.70" y2="324.30" stroke="#111" stroke-width="1.3" />
<text x="304.75" y="346.00" font-size="11.8" text-anchor="middle" fill="#111" >α-actin</text>
<line x1="256.10" y1="342.80" x2="283.41" y2="342.80" stroke="#111" stroke-width="1.3" />
<line x1="326.09" y1="342.80" x2="353.40" y2="342.80" stroke="#111" stroke-width="1.3" />
<clipPath id="c4"><rect x="256.10" y="303.70" width="97.30" height="29.40"/></clipPath>
<rect x="256.10" y="303.70" width="97.30" height="29.40" fill="url(#lg5)"/>
<g clip-path="url(#c4)">
<rect x="262.80" y="313.50" width="39.70" height="9.80" rx="3.92" ry="4.90" fill="#2a2a2a" opacity="1.0" filter="url(#g14)"/>
<rect x="306.00" y="312.50" width="42.00" height="9.00" rx="3.60" ry="4.50" fill="#262626" opacity="1.0" filter="url(#g14)"/>
<rect x="268.00" y="317.50" width="22.00" height="5.00" rx="2.00" ry="2.50" fill="#1a1a1a" opacity="1.0" filter="url(#g14)"/>
<rect x="256.10" y="303.70" width="97.30" height="29.40" fill="#fff" filter="url(#nz)" opacity="0.1"/>
</g>
<rect x="256.10" y="303.70" width="97.30" height="29.40" fill="none" stroke="#1a1a1a" stroke-width="1.3"/>
<text x="281.20" y="366.20" font-size="14.0" text-anchor="middle" fill="#111" >1</text>
<text x="325.10" y="366.20" font-size="14.0" text-anchor="middle" fill="#111" >2</text>
<text x="468.60" y="62.80" font-size="14.4" text-anchor="middle" fill="#111" >FFM12</text>
<line x1="422.20" y1="67.20" x2="518.10" y2="67.20" stroke="#111" stroke-width="1.3" />
<text x="445.00" y="83.70" font-size="10.7" text-anchor="middle" fill="#111" >nsp</text>
<line x1="427.30" y1="88.40" x2="458.90" y2="88.40" stroke="#111" stroke-width="1.3" />
<text x="493.90" y="83.70" font-size="10.5" text-anchor="middle" fill="#111" >shMac-1</text>
<line x1="477.70" y1="88.40" x2="509.50" y2="88.40" stroke="#111" stroke-width="1.3" />
<text x="403.00" y="116.40" font-size="10.8" text-anchor="end" fill="#111" >120</text>
<line x1="406.10" y1="112.60" x2="413.90" y2="112.60" stroke="#111" stroke-width="1.3" />
<text x="469.10" y="134.10" font-size="11.8" text-anchor="middle" fill="#111" >α-Mac-1</text>
<line x1="420.30" y1="130.90" x2="443.83" y2="130.90" stroke="#111" stroke-width="1.3" />
<line x1="494.37" y1="130.90" x2="517.90" y2="130.90" stroke="#111" stroke-width="1.3" />
<clipPath id="c5"><rect x="420.30" y="95.50" width="97.60" height="25.70"/></clipPath>
<rect x="420.30" y="95.50" width="97.60" height="25.70" fill="#d8d8d8"/>
<g clip-path="url(#c5)">
<rect x="429.70" y="106.30" width="31.10" height="4.80" rx="1.92" ry="2.40" fill="#222" opacity="1.0" filter="url(#g11)"/>
<rect x="474.30" y="106.00" width="33.20" height="4.00" rx="1.60" ry="2.00" fill="#c0c0c0" opacity="1.0" filter="url(#g20)"/>
<rect x="420.30" y="95.50" width="97.60" height="25.70" fill="#fff" filter="url(#nz)" opacity="0.1"/>
</g>
<rect x="420.30" y="95.50" width="97.60" height="25.70" fill="none" stroke="#1a1a1a" stroke-width="1.3"/>
<text x="400.10" y="167.90" font-size="10.8" text-anchor="end" fill="#111" >60</text>
<line x1="406.10" y1="164.10" x2="413.90" y2="164.10" stroke="#111" stroke-width="1.3" />
<text x="469.10" y="185.80" font-size="11.8" text-anchor="middle" fill="#111" >α-pSyk</text>
<line x1="420.30" y1="182.60" x2="447.11" y2="182.60" stroke="#111" stroke-width="1.3" />
<line x1="491.09" y1="182.60" x2="517.90" y2="182.60" stroke="#111" stroke-width="1.3" />
<clipPath id="c6"><rect x="420.30" y="147.00" width="97.60" height="25.90"/></clipPath>
<rect x="420.30" y="147.00" width="97.60" height="25.90" fill="#d8d8d8"/>
<g clip-path="url(#c6)">
<rect x="468.00" y="147.0" width="8.00" height="25.9" fill="#fff" opacity="0.35" filter="url(#g20)"/>
<rect x="428.60" y="158.20" width="36.40" height="5.60" rx="2.24" ry="2.80" fill="#0d0d0d" opacity="1.0" filter="url(#g12)"/>
<rect x="479.50" y="158.60" width="32.20" height="4.00" rx="1.60" ry="2.00" fill="#2a2a2a" opacity="1.0" filter="url(#g12)"/>
<rect x="420.30" y="147.00" width="97.60" height="25.90" fill="#fff" filter="url(#nz)" opacity="0.1"/>
</g>
<rect x="420.30" y="147.00" width="97.60" height="25.90" fill="none" stroke="#1a1a1a" stroke-width="1.3"/>
<text x="400.10" y="220.80" font-size="10.8" text-anchor="end" fill="#111" >80</text>
<line x1="406.10" y1="217.00" x2="413.90" y2="217.00" stroke="#111" stroke-width="1.3" />
<text x="469.10" y="237.20" font-size="11.8" text-anchor="middle" fill="#111" >α-pSTAT5</text>
<line x1="420.30" y1="234.00" x2="439.46" y2="234.00" stroke="#111" stroke-width="1.3" />
<line x1="498.74" y1="234.00" x2="517.90" y2="234.00" stroke="#111" stroke-width="1.3" />
<clipPath id="c7"><rect x="420.30" y="198.30" width="97.60" height="26.00"/></clipPath>
<rect x="420.30" y="198.30" width="97.60" height="26.00" fill="url(#lg8)"/>
<g clip-path="url(#c7)">
<rect x="470.50" y="198.3" width="9.00" height="26.0" fill="#fff" opacity="0.35" filter="url(#g20)"/>
<path d="M430.50,210.90 L469.00,209.65 A3.25,3.25 0 0 1 469.00,216.15 L430.50,214.90 A2.00,2.00 0 0 1 430.50,210.90 Z" fill="#0d0d0d" opacity="1.0" filter="url(#g11)"/>
<rect x="435.00" y="209.95" width="27.00" height="6.50" rx="2.60" ry="3.25" fill="#0d0d0d" opacity="1.0" filter="url(#g11)"/>
<rect x="480.50" y="209.30" width="30.10" height="4.00" rx="1.60" ry="2.00" fill="#2a2a2a" opacity="1.0" filter="url(#g12)"/>
<rect x="420.30" y="198.30" width="97.60" height="26.00" fill="#fff" filter="url(#nz)" opacity="0.14"/>
</g>
<rect x="420.30" y="198.30" width="97.60" height="26.00" fill="none" stroke="#1a1a1a" stroke-width="1.3"/>
<text x="400.10" y="271.00" font-size="10.8" text-anchor="end" fill="#111" >70</text>
<line x1="406.10" y1="267.20" x2="413.90" y2="267.20" stroke="#111" stroke-width="1.3" />
<text x="469.10" y="287.90" font-size="11.8" text-anchor="middle" fill="#111" >α-pSTAT3</text>
<line x1="420.30" y1="284.70" x2="439.46" y2="284.70" stroke="#111" stroke-width="1.3" />
<line x1="498.74" y1="284.70" x2="517.90" y2="284.70" stroke="#111" stroke-width="1.3" />
<clipPath id="c8"><rect x="420.30" y="249.00" width="97.60" height="26.00"/></clipPath>
<rect x="420.30" y="249.00" width="97.60" height="26.00" fill="url(#lg9)"/>
<g clip-path="url(#c8)">
<rect x="462.50" y="249.0" width="9.00" height="26.0" fill="#fff" opacity="0.35" filter="url(#g20)"/>
<rect x="427.60" y="256.10" width="33.20" height="3.80" rx="1.52" ry="1.90" fill="#2a2a2a" opacity="1.0" filter="url(#g11)"/>
<rect x="472.20" y="257.00" width="37.40" height="7.00" rx="2.80" ry="3.50" fill="#999" opacity="1.0" filter="url(#g22)"/>
<rect x="472.20" y="263.50" width="37.40" height="4.00" rx="1.60" ry="2.00" fill="#aaa" opacity="1.0" filter="url(#g20)"/>
<rect x="420.30" y="249.00" width="97.60" height="26.00" fill="#fff" filter="url(#nz)" opacity="0.16"/>
</g>
<rect x="420.30" y="249.00" width="97.60" height="26.00" fill="none" stroke="#1a1a1a" stroke-width="1.3"/>
<text x="400.10" y="328.10" font-size="10.8" text-anchor="end" fill="#111" >40</text>
<line x1="406.10" y1="324.30" x2="413.90" y2="324.30" stroke="#111" stroke-width="1.3" />
<text x="469.10" y="346.00" font-size="11.8" text-anchor="middle" fill="#111" >α-actin</text>
<line x1="420.30" y1="342.80" x2="447.76" y2="342.80" stroke="#111" stroke-width="1.3" />
<line x1="490.44" y1="342.80" x2="517.90" y2="342.80" stroke="#111" stroke-width="1.3" />
<clipPath id="c9"><rect x="420.30" y="303.70" width="97.60" height="29.40"/></clipPath>
<rect x="420.30" y="303.70" width="97.60" height="29.40" fill="url(#lg10)"/>
<g clip-path="url(#c9)">
<rect x="432.00" y="313.50" width="37.30" height="11.00" rx="4.40" ry="5.50" fill="#1c1c1c" opacity="1.0" filter="url(#g11)"/>
<rect x="473.40" y="312.90" width="36.10" height="11.00" rx="4.40" ry="5.50" fill="#1c1c1c" opacity="1.0" filter="url(#g11)"/>
<rect x="420.30" y="303.70" width="97.60" height="29.40" fill="#fff" filter="url(#nz)" opacity="0.1"/>
</g>
<rect x="420.30" y="303.70" width="97.60" height="29.40" fill="none" stroke="#1a1a1a" stroke-width="1.3"/>
<text x="448.30" y="366.20" font-size="14.0" text-anchor="middle" fill="#111" >1</text>
<text x="491.50" y="366.20" font-size="14.0" text-anchor="middle" fill="#111" >2</text>
<text x="303.40" y="495.60" font-size="14.4" text-anchor="middle" fill="#111" >FFM05</text>
<line x1="257.00" y1="500.00" x2="353.20" y2="500.00" stroke="#111" stroke-width="1.3" />
<text x="279.80" y="516.50" font-size="10.7" text-anchor="middle" fill="#111" >nsp</text>
<line x1="262.10" y1="521.20" x2="293.70" y2="521.20" stroke="#111" stroke-width="1.3" />
<text x="328.70" y="516.50" font-size="10.5" text-anchor="middle" fill="#111" >shCD18</text>
<line x1="312.50" y1="521.20" x2="344.30" y2="521.20" stroke="#111" stroke-width="1.3" />
<text x="234.90" y="544.40" font-size="10.8" text-anchor="end" fill="#111" >90</text>
<line x1="240.90" y1="540.60" x2="248.70" y2="540.60" stroke="#111" stroke-width="1.3" />
<text x="304.05" y="566.90" font-size="11.8" text-anchor="middle" fill="#111" >α-CD18</text>
<line x1="255.10" y1="563.70" x2="280.09" y2="563.70" stroke="#111" stroke-width="1.3" />
<line x1="328.01" y1="563.70" x2="353.00" y2="563.70" stroke="#111" stroke-width="1.3" />
<clipPath id="c10"><rect x="255.10" y="528.30" width="97.90" height="25.70"/></clipPath>
<rect x="255.10" y="528.30" width="97.90" height="25.70" fill="#d8d8d8"/>
<g clip-path="url(#c10)">
<rect x="300.00" y="528.3" width="10.00" height="25.7" fill="#fff" opacity="0.60" filter="url(#g20)"/>
<ellipse cx="282.50" cy="541.50" rx="19.00" ry="6.50" fill="#707070" opacity="1.0" filter="url(#g25)"/>
<rect x="265.50" y="536.30" width="34.50" height="5.00" rx="2.00" ry="2.50" fill="#484848" opacity="1.0" filter="url(#g20)"/>
<rect x="268.00" y="537.55" width="22.00" height="3.50" rx="1.40" ry="1.75" fill="#383838" opacity="1.0" filter="url(#g16)"/>
<rect x="308.20" y="537.00" width="39.10" height="4.00" rx="1.60" ry="2.00" fill="#aaa" opacity="1.0" filter="url(#g16)"/>
<rect x="308.20" y="545.00" width="39.10" height="4.00" rx="1.60" ry="2.00" fill="#999" opacity="1.0" filter="url(#g16)"/>
<rect x="255.10" y="528.30" width="97.90" height="25.70" fill="#fff" filter="url(#nz)" opacity="0.1"/>
</g>
<rect x="255.10" y="528.30" width="97.90" height="25.70" fill="none" stroke="#1a1a1a" stroke-width="1.3"/>
<text x="234.90" y="595.80" font-size="10.8" text-anchor="end" fill="#111" >60</text>
<line x1="240.90" y1="592.00" x2="248.70" y2="592.00" stroke="#111" stroke-width="1.3" />
<text x="304.05" y="618.60" font-size="11.8" text-anchor="middle" fill="#111" >α-pSyk</text>
<line x1="255.10" y1="615.40" x2="282.06" y2="615.40" stroke="#111" stroke-width="1.3" />
<line x1="326.04" y1="615.40" x2="353.00" y2="615.40" stroke="#111" stroke-width="1.3" />
<clipPath id="c11"><rect x="255.10" y="579.80" width="97.90" height="25.90"/></clipPath>
<rect x="255.10" y="579.80" width="97.90" height="25.90" fill="url(#lg12)"/>
<g clip-path="url(#c11)">
<rect x="260.60" y="589.75" width="40.20" height="10.50" rx="4.20" ry="5.25" fill="#080808" opacity="1.0" filter="url(#g12)"/>
<rect x="310.30" y="591.10" width="10.20" height="3.60" rx="1.44" ry="1.80" fill="#3a3a3a" opacity="1.0" filter="url(#g12)"/>
<rect x="319.00" y="591.70" width="14.00" height="2.60" rx="1.04" ry="1.30" fill="#9a9a9a" opacity="1.0" filter="url(#g12)"/>
<rect x="255.10" y="579.80" width="97.90" height="25.90" fill="#fff" filter="url(#nz)" opacity="0.1"/>
</g>
<rect x="255.10" y="579.80" width="97.90" height="25.90" fill="none" stroke="#1a1a1a" stroke-width="1.3"/>
<text x="234.90" y="647.30" font-size="10.8" text-anchor="end" fill="#111" >80</text>
<line x1="240.90" y1="643.50" x2="248.70" y2="643.50" stroke="#111" stroke-width="1.3" />
<text x="304.05" y="670.00" font-size="11.8" text-anchor="middle" fill="#111" >α-pSTAT5</text>
<line x1="255.10" y1="666.80" x2="274.41" y2="666.80" stroke="#111" stroke-width="1.3" />
<line x1="333.69" y1="666.80" x2="353.00" y2="666.80" stroke="#111" stroke-width="1.3" />
<clipPath id="c12"><rect x="255.10" y="631.10" width="97.90" height="26.00"/></clipPath>
<rect x="255.10" y="631.10" width="97.90" height="26.00" fill="url(#lg13)"/>
<g clip-path="url(#c12)">
<rect x="261.60" y="642.10" width="32.80" height="6.00" rx="2.40" ry="3.00" fill="#4a4a4a" opacity="1.0" filter="url(#g15)"/>
<rect x="309.20" y="641.50" width="34.90" height="5.00" rx="2.00" ry="2.50" fill="#9a9a9a" opacity="1.0" filter="url(#g15)"/>
<rect x="255.10" y="631.10" width="97.90" height="26.00" fill="#fff" filter="url(#nz)" opacity="0.2"/>
</g>
<rect x="255.10" y="631.10" width="97.90" height="26.00" fill="none" stroke="#1a1a1a" stroke-width="1.3"/>
<text x="234.90" y="697.90" font-size="10.8" text-anchor="end" fill="#111" >70</text>
<line x1="240.90" y1="694.10" x2="248.70" y2="694.10" stroke="#111" stroke-width="1.3" />
<text x="304.05" y="720.70" font-size="11.8" text-anchor="middle" fill="#111" >α-pSTAT3</text>
<line x1="255.10" y1="717.50" x2="274.41" y2="717.50" stroke="#111" stroke-width="1.3" />
<line x1="333.69" y1="717.50" x2="353.00" y2="717.50" stroke="#111" stroke-width="1.3" />
<clipPath id="c13"><rect x="255.10" y="681.80" width="97.90" height="26.00"/></clipPath>
<rect x="255.10" y="681.80" width="97.90" height="26.00" fill="#c4c4c4"/>
<g clip-path="url(#c13)">
<rect x="260.60" y="692.40" width="40.20" height="4.00" rx="1.60" ry="2.00" fill="#505050" opacity="1.0" filter="url(#g12)"/>
<rect x="313.50" y="691.35" width="30.60" height="3.50" rx="1.40" ry="1.75" fill="#8a8a8a" opacity="1.0" filter="url(#g12)"/>
<rect x="337.00" y="691.20" width="7.00" height="3.20" rx="1.28" ry="1.60" fill="#555" opacity="1.0" filter="url(#g12)"/>
<rect x="255.10" y="681.80" width="97.90" height="26.00" fill="#fff" filter="url(#nz)" opacity="0.18"/>
</g>
<rect x="255.10" y="681.80" width="97.90" height="26.00" fill="none" stroke="#1a1a1a" stroke-width="1.3"/>
<text x="234.90" y="756.00" font-size="10.8" text-anchor="end" fill="#111" >40</text>
<line x1="240.90" y1="752.20" x2="248.70" y2="752.20" stroke="#111" stroke-width="1.3" />
<text x="304.05" y="777.20" font-size="11.8" text-anchor="middle" fill="#111" >α-actin</text>
<line x1="255.10" y1="774.00" x2="282.71" y2="774.00" stroke="#111" stroke-width="1.3" />
<line x1="325.39" y1="774.00" x2="353.00" y2="774.00" stroke="#111" stroke-width="1.3" />
<clipPath id="c14"><rect x="255.10" y="736.50" width="97.90" height="29.40"/></clipPath>
<rect x="255.10" y="736.50" width="97.90" height="29.40" fill="#d8d8d8"/>
<g clip-path="url(#c14)">
<rect x="263.10" y="747.50" width="38.70" height="10.00" rx="4.00" ry="5.00" fill="#2c2c2c" opacity="1.0" filter="url(#g15)"/>
<rect x="270.00" y="750.50" width="30.00" height="6.00" rx="2.40" ry="3.00" fill="#1e1e1e" opacity="1.0" filter="url(#g14)"/>
<ellipse cx="284.00" cy="755.00" rx="4.00" ry="2.20" fill="#888" opacity="1.0" filter="url(#g10)"/>
<rect x="307.50" y="747.50" width="38.80" height="9.00" rx="3.60" ry="4.50" fill="#2a2a2a" opacity="1.0" filter="url(#g15)"/>
<rect x="312.00" y="749.80" width="33.00" height="6.00" rx="2.40" ry="3.00" fill="#1e1e1e" opacity="1.0" filter="url(#g14)"/>
<rect x="255.10" y="736.50" width="97.90" height="29.40" fill="#fff" filter="url(#nz)" opacity="0.1"/>
</g>
<rect x="255.10" y="736.50" width="97.90" height="29.40" fill="none" stroke="#1a1a1a" stroke-width="1.3"/>
<text x="282.20" y="801.30" font-size="14.0" text-anchor="middle" fill="#111" >1</text>
<text x="327.20" y="801.30" font-size="14.0" text-anchor="middle" fill="#111" >2</text>
<text x="466.10" y="495.60" font-size="14.4" text-anchor="middle" fill="#111" >FFM12</text>
<line x1="419.70" y1="500.00" x2="516.00" y2="500.00" stroke="#111" stroke-width="1.3" />
<text x="442.50" y="516.50" font-size="10.7" text-anchor="middle" fill="#111" >nsp</text>
<line x1="424.80" y1="521.20" x2="456.40" y2="521.20" stroke="#111" stroke-width="1.3" />
<text x="491.40" y="516.50" font-size="10.5" text-anchor="middle" fill="#111" >shCD18</text>
<line x1="475.20" y1="521.20" x2="507.00" y2="521.20" stroke="#111" stroke-width="1.3" />
<text x="397.60" y="544.40" font-size="10.8" text-anchor="end" fill="#111" >90</text>
<line x1="403.60" y1="540.60" x2="411.40" y2="540.60" stroke="#111" stroke-width="1.3" />
<text x="466.80" y="566.90" font-size="11.8" text-anchor="middle" fill="#111" >α-CD18</text>
<line x1="417.80" y1="563.70" x2="442.84" y2="563.70" stroke="#111" stroke-width="1.3" />
<line x1="490.76" y1="563.70" x2="515.80" y2="563.70" stroke="#111" stroke-width="1.3" />
<clipPath id="c15"><rect x="417.80" y="528.30" width="98.00" height="25.70"/></clipPath>
<rect x="417.80" y="528.30" width="98.00" height="25.70" fill="#e6e6e6"/>
<g clip-path="url(#c15)">
<rect x="428.50" y="536.50" width="33.00" height="11.00" rx="4.40" ry="5.50" fill="#5a5a5a" opacity="1.0" filter="url(#g22)"/>
<rect x="430.00" y="536.80" width="29.00" height="4.00" rx="1.60" ry="2.00" fill="#2a2a2a" opacity="1.0" filter="url(#g16)"/>
<rect x="434.00" y="543.75" width="23.00" height="3.50" rx="1.40" ry="1.75" fill="#404040" opacity="1.0" filter="url(#g16)"/>
<rect x="417.80" y="528.30" width="98.00" height="25.70" fill="#fff" filter="url(#nz)" opacity="0.1"/>
</g>
<rect x="417.80" y="528.30" width="98.00" height="25.70" fill="none" stroke="#1a1a1a" stroke-width="1.3"/>
<text x="397.60" y="595.80" font-size="10.8" text-anchor="end" fill="#111" >60</text>
<line x1="403.60" y1="592.00" x2="411.40" y2="592.00" stroke="#111" stroke-width="1.3" />
<text x="466.80" y="618.60" font-size="11.8" text-anchor="middle" fill="#111" >α-pSyk</text>
<line x1="417.80" y1="615.40" x2="444.81" y2="615.40" stroke="#111" stroke-width="1.3" />
<line x1="488.79" y1="615.40" x2="515.80" y2="615.40" stroke="#111" stroke-width="1.3" />
<clipPath id="c16"><rect x="417.80" y="579.80" width="98.00" height="25.90"/></clipPath>
<rect x="417.80" y="579.80" width="98.00" height="25.90" fill="#c6c6c6"/>
<g clip-path="url(#c16)">
<rect x="423.40" y="590.80" width="39.50" height="7.00" rx="2.80" ry="3.50" fill="#0d0d0d" opacity="1.0" filter="url(#g12)"/>
<ellipse cx="489.00" cy="593.00" rx="12.00" ry="6.00" fill="#999" opacity="1.0" filter="url(#g25)"/>
<rect x="417.80" y="579.80" width="98.00" height="25.90" fill="#fff" filter="url(#nz)" opacity="0.22"/>
</g>
<rect x="417.80" y="579.80" width="98.00" height="25.90" fill="none" stroke="#1a1a1a" stroke-width="1.3"/>
<text x="397.60" y="647.30" font-size="10.8" text-anchor="end" fill="#111" >80</text>
<line x1="403.60" y1="643.50" x2="411.40" y2="643.50" stroke="#111" stroke-width="1.3" />
<text x="466.80" y="670.00" font-size="11.8" text-anchor="middle" fill="#111" >α-pSTAT5</text>
<line x1="417.80" y1="666.80" x2="437.16" y2="666.80" stroke="#111" stroke-width="1.3" />
<line x1="496.44" y1="666.80" x2="515.80" y2="666.80" stroke="#111" stroke-width="1.3" />
<clipPath id="c17"><rect x="417.80" y="631.10" width="98.00" height="26.00"/></clipPath>
<rect x="417.80" y="631.10" width="98.00" height="26.00" fill="url(#lg18)"/>
<g clip-path="url(#c17)">
<rect x="425.50" y="641.60" width="35.30" height="5.00" rx="2.00" ry="2.50" fill="#222" opacity="1.0" filter="url(#g12)"/>
<rect x="472.20" y="641.75" width="31.20" height="4.50" rx="1.80" ry="2.25" fill="#aaa" opacity="1.0" filter="url(#g20)"/>
<rect x="417.80" y="631.10" width="98.00" height="26.00" fill="#fff" filter="url(#nz)" opacity="0.16"/>
</g>
<rect x="417.80" y="631.10" width="98.00" height="26.00" fill="none" stroke="#1a1a1a" stroke-width="1.3"/>
<text x="397.60" y="697.90" font-size="10.8" text-anchor="end" fill="#111" >70</text>
<line x1="403.60" y1="694.10" x2="411.40" y2="694.10" stroke="#111" stroke-width="1.3" />
<text x="466.80" y="720.70" font-size="11.8" text-anchor="middle" fill="#111" >α-pSTAT3</text>
<line x1="417.80" y1="717.50" x2="437.16" y2="717.50" stroke="#111" stroke-width="1.3" />
<line x1="496.44" y1="717.50" x2="515.80" y2="717.50" stroke="#111" stroke-width="1.3" />
<clipPath id="c18"><rect x="417.80" y="681.80" width="98.00" height="26.00"/></clipPath>
<rect x="417.80" y="681.80" width="98.00" height="26.00" fill="#c8c8c8"/>
<g clip-path="url(#c18)">
<path d="M459.00,692.70 L428.00,690.95 A3.25,3.25 0 0 1 428.00,697.45 L459.00,695.70 A1.50,1.50 0 0 1 459.00,692.70 Z" fill="#3a3a3a" opacity="1.0" filter="url(#g16)"/>
<rect x="430.00" y="692.10" width="18.00" height="5.00" rx="2.00" ry="2.50" fill="#2a2a2a" opacity="1.0" filter="url(#g14)"/>
<rect x="478.50" y="692.35" width="24.90" height="4.50" rx="1.80" ry="2.25" fill="#a0a0a0" opacity="1.0" filter="url(#g20)"/>
<rect x="417.80" y="681.80" width="98.00" height="26.00" fill="#fff" filter="url(#nz)" opacity="0.16"/>
</g>
<rect x="417.80" y="681.80" width="98.00" height="26.00" fill="none" stroke="#1a1a1a" stroke-width="1.3"/>
<text x="397.60" y="756.00" font-size="10.8" text-anchor="end" fill="#111" >40</text>
<line x1="403.60" y1="752.20" x2="411.40" y2="752.20" stroke="#111" stroke-width="1.3" />
<text x="466.80" y="777.20" font-size="11.8" text-anchor="middle" fill="#111" >α-actin</text>
<line x1="417.80" y1="774.00" x2="445.46" y2="774.00" stroke="#111" stroke-width="1.3" />
<line x1="488.14" y1="774.00" x2="515.80" y2="774.00" stroke="#111" stroke-width="1.3" />
<clipPath id="c19"><rect x="417.80" y="736.50" width="98.00" height="29.40"/></clipPath>
<rect x="417.80" y="736.50" width="98.00" height="29.40" fill="#d6d6d6"/>
<g clip-path="url(#c19)">
<rect x="419.00" y="746.80" width="48.00" height="9.00" rx="3.60" ry="4.50" fill="#2e2e2e" opacity="1.0" filter="url(#g15)"/>
<rect x="472.20" y="746.50" width="42.80" height="10.00" rx="4.00" ry="5.00" fill="#262626" opacity="1.0" filter="url(#g15)"/>
<rect x="417.80" y="736.50" width="98.00" height="29.40" fill="#fff" filter="url(#nz)" opacity="0.1"/>
</g>
<rect x="417.80" y="736.50" width="98.00" height="29.40" fill="none" stroke="#1a1a1a" stroke-width="1.3"/>
<text x="443.20" y="801.30" font-size="14.0" text-anchor="middle" fill="#111" >1</text>
<text x="492.00" y="801.30" font-size="14.0" text-anchor="middle" fill="#111" >2</text>
<text x="304.20" y="923.60" font-size="14.4" text-anchor="middle" fill="#111" >FFM05</text>
<line x1="257.80" y1="928.00" x2="353.70" y2="928.00" stroke="#111" stroke-width="1.3" />
<text x="280.60" y="944.50" font-size="10.7" text-anchor="middle" fill="#111" >nsp</text>
<line x1="262.90" y1="949.20" x2="294.50" y2="949.20" stroke="#111" stroke-width="1.3" />
<text x="329.50" y="944.50" font-size="10.5" text-anchor="middle" fill="#111" >shFcRγ</text>
<line x1="313.30" y1="949.20" x2="345.10" y2="949.20" stroke="#111" stroke-width="1.3" />
<text x="235.70" y="973.70" font-size="10.8" text-anchor="end" fill="#111" >10</text>
<line x1="241.70" y1="969.90" x2="249.50" y2="969.90" stroke="#111" stroke-width="1.3" />
<text x="304.70" y="994.90" font-size="11.8" text-anchor="middle" fill="#111" >α-FcRγ</text>
<line x1="255.90" y1="991.70" x2="282.06" y2="991.70" stroke="#111" stroke-width="1.3" />
<line x1="327.34" y1="991.70" x2="353.50" y2="991.70" stroke="#111" stroke-width="1.3" />
<clipPath id="c20"><rect x="255.90" y="956.30" width="97.60" height="25.70"/></clipPath>
<rect x="255.90" y="956.30" width="97.60" height="25.70" fill="url(#lg21)"/>
<g clip-path="url(#c20)">
<rect x="258.50" y="966.10" width="39.10" height="8.00" rx="3.20" ry="4.00" fill="#444" opacity="1.0" filter="url(#g22)"/>
<rect x="262.00" y="968.00" width="28.00" height="5.00" rx="2.00" ry="2.50" fill="#333" opacity="1.0" filter="url(#g18)"/>
<rect x="255.90" y="956.30" width="97.60" height="25.70" fill="#fff" filter="url(#nz)" opacity="0.2"/>
</g>
<rect x="255.90" y="956.30" width="97.60" height="25.70" fill="none" stroke="#1a1a1a" stroke-width="1.3"/>
<text x="235.70" y="1025.80" font-size="10.8" text-anchor="end" fill="#111" >60</text>
<line x1="241.70" y1="1022.00" x2="249.50" y2="1022.00" stroke="#111" stroke-width="1.3" />
<text x="304.70" y="1046.60" font-size="11.8" text-anchor="middle" fill="#111" >α-pSyk</text>
<line x1="255.90" y1="1043.40" x2="282.71" y2="1043.40" stroke="#111" stroke-width="1.3" />
<line x1="326.69" y1="1043.40" x2="353.50" y2="1043.40" stroke="#111" stroke-width="1.3" />
<clipPath id="c21"><rect x="255.90" y="1007.80" width="97.60" height="25.90"/></clipPath>
<rect x="255.90" y="1007.80" width="97.60" height="25.90" fill="url(#lg22)"/>
<g clip-path="url(#c21)">
<rect x="298.50" y="1007.8" width="10.00" height="25.9" fill="#fff" opacity="0.40" filter="url(#g20)"/>
<path d="M265.00,1021.80 L293.50,1019.30 A4.00,4.00 0 0 1 293.50,1027.30 L265.00,1024.80 A1.50,1.50 0 0 1 265.00,1021.80 Z" fill="#1a1a1a" opacity="1.0" filter="url(#g15)"/>
<rect x="309.50" y="1018.00" width="34.50" height="8.00" rx="3.20" ry="4.00" fill="#9c9c9c" opacity="1.0" filter="url(#g24)"/>
<rect x="255.90" y="1007.80" width="97.60" height="25.90" fill="#fff" filter="url(#nz)" opacity="0.1"/>
</g>
<rect x="255.90" y="1007.80" width="97.60" height="25.90" fill="none" stroke="#1a1a1a" stroke-width="1.3"/>
<text x="235.70" y="1076.60" font-size="10.8" text-anchor="end" fill="#111" >80</text>
<line x1="241.70" y1="1072.80" x2="249.50" y2="1072.80" stroke="#111" stroke-width="1.3" />
<text x="304.70" y="1098.00" font-size="11.8" text-anchor="middle" fill="#111" >α-pSTAT5</text>
<line x1="255.90" y1="1094.80" x2="275.06" y2="1094.80" stroke="#111" stroke-width="1.3" />
<line x1="334.34" y1="1094.80" x2="353.50" y2="1094.80" stroke="#111" stroke-width="1.3" />
<clipPath id="c22"><rect x="255.90" y="1059.10" width="97.60" height="26.00"/></clipPath>
<rect x="255.90" y="1059.10" width="97.60" height="26.00" fill="#c8c8c8"/>
<g clip-path="url(#c22)">
<rect x="263.80" y="1069.85" width="34.90" height="6.50" rx="2.60" ry="3.25" fill="#111" opacity="1.0" filter="url(#g12)"/>
<rect x="308.20" y="1069.75" width="35.90" height="5.50" rx="2.20" ry="2.75" fill="#666" opacity="1.0" filter="url(#g16)"/>
<rect x="255.90" y="1059.10" width="97.60" height="26.00" fill="#fff" filter="url(#nz)" opacity="0.16"/>
</g>
<rect x="255.90" y="1059.10" width="97.60" height="26.00" fill="none" stroke="#1a1a1a" stroke-width="1.3"/>
<text x="235.70" y="1127.50" font-size="10.8" text-anchor="end" fill="#111" >70</text>
<line x1="241.70" y1="1123.70" x2="249.50" y2="1123.70" stroke="#111" stroke-width="1.3" />
<text x="304.70" y="1148.70" font-size="11.8" text-anchor="middle" fill="#111" >α-pSTAT3</text>
<line x1="255.90" y1="1145.50" x2="275.06" y2="1145.50" stroke="#111" stroke-width="1.3" />
<line x1="334.34" y1="1145.50" x2="353.50" y2="1145.50" stroke="#111" stroke-width="1.3" />
<clipPath id="c23"><rect x="255.90" y="1109.80" width="97.60" height="26.00"/></clipPath>
<rect x="255.90" y="1109.80" width="97.60" height="26.00" fill="#c0c0c0"/>
<g clip-path="url(#c23)">
<rect x="262.70" y="1120.05" width="39.10" height="5.50" rx="2.20" ry="2.75" fill="#333" opacity="1.0" filter="url(#g12)"/>
<rect x="318.80" y="1119.35" width="24.30" height="3.50" rx="1.40" ry="1.75" fill="#808080" opacity="1.0" filter="url(#g14)"/>
<rect x="255.90" y="1109.80" width="97.60" height="26.00" fill="#fff" filter="url(#nz)" opacity="0.2"/>
</g>
<rect x="255.90" y="1109.80" width="97.60" height="26.00" fill="none" stroke="#1a1a1a" stroke-width="1.3"/>
<text x="235.70" y="1187.10" font-size="10.8" text-anchor="end" fill="#111" >40</text>
<line x1="241.70" y1="1183.30" x2="249.50" y2="1183.30" stroke="#111" stroke-width="1.3" />
<text x="304.70" y="1206.80" font-size="11.8" text-anchor="middle" fill="#111" >α-actin</text>
<line x1="255.90" y1="1203.60" x2="283.36" y2="1203.60" stroke="#111" stroke-width="1.3" />
<line x1="326.04" y1="1203.60" x2="353.50" y2="1203.60" stroke="#111" stroke-width="1.3" />
<clipPath id="c24"><rect x="255.90" y="1164.50" width="97.60" height="29.40"/></clipPath>
<rect x="255.90" y="1164.50" width="97.60" height="29.40" fill="url(#lg25)"/>
<g clip-path="url(#c24)">
<rect x="265.90" y="1176.15" width="35.90" height="8.50" rx="3.40" ry="4.25" fill="#161616" opacity="1.0" filter="url(#g13)"/>
<path d="M317.00,1178.10 L343.50,1176.60 A5.00,5.00 0 0 1 343.50,1186.60 L317.00,1185.10 A3.50,3.50 0 0 1 317.00,1178.10 Z" fill="#141414" opacity="1.0" filter="url(#g13)"/>
<rect x="255.90" y="1164.50" width="97.60" height="29.40" fill="#fff" filter="url(#nz)" opacity="0.1"/>
</g>
<rect x="255.90" y="1164.50" width="97.60" height="29.40" fill="none" stroke="#1a1a1a" stroke-width="1.3"/>
<text x="282.80" y="1227.30" font-size="14.0" text-anchor="middle" fill="#111" >1</text>
<text x="328.90" y="1227.30" font-size="14.0" text-anchor="middle" fill="#111" >2</text>
<text x="466.50" y="923.60" font-size="14.4" text-anchor="middle" fill="#111" >FFM12</text>
<line x1="420.10" y1="928.00" x2="516.00" y2="928.00" stroke="#111" stroke-width="1.3" />
<text x="442.90" y="944.50" font-size="10.7" text-anchor="middle" fill="#111" >nsp</text>
<line x1="425.20" y1="949.20" x2="456.80" y2="949.20" stroke="#111" stroke-width="1.3" />
<text x="491.80" y="944.50" font-size="10.5" text-anchor="middle" fill="#111" >shFcRγ</text>
<line x1="475.60" y1="949.20" x2="507.40" y2="949.20" stroke="#111" stroke-width="1.3" />
<text x="398.00" y="973.70" font-size="10.8" text-anchor="end" fill="#111" >10</text>
<line x1="404.00" y1="969.90" x2="411.80" y2="969.90" stroke="#111" stroke-width="1.3" />
<text x="467.00" y="994.90" font-size="11.8" text-anchor="middle" fill="#111" >α-FcRγ</text>
<line x1="418.20" y1="991.70" x2="444.36" y2="991.70" stroke="#111" stroke-width="1.3" />
<line x1="489.64" y1="991.70" x2="515.80" y2="991.70" stroke="#111" stroke-width="1.3" />
<clipPath id="c25"><rect x="418.20" y="956.30" width="97.60" height="25.70"/></clipPath>
<rect x="418.20" y="956.30" width="97.60" height="25.70" fill="url(#lg26)"/>
<g clip-path="url(#c25)">
<path d="M431.50,967.95 L459.50,966.10 A3.10,3.10 0 0 1 459.50,972.30 L431.50,970.45 A1.25,1.25 0 0 1 431.50,967.95 Z" fill="#111" opacity="1.0" filter="url(#g12)"/>
<rect x="469.50" y="965.00" width="40.50" height="5.00" rx="2.00" ry="2.50" fill="#b4b4b4" opacity="1.0" filter="url(#g20)"/>
<rect x="485.00" y="965.25" width="20.00" height="3.50" rx="1.40" ry="1.75" fill="#999" opacity="1.0" filter="url(#g16)"/>
<rect x="418.20" y="956.30" width="97.60" height="25.70" fill="#fff" filter="url(#nz)" opacity="0.1"/>
</g>
<rect x="418.20" y="956.30" width="97.60" height="25.70" fill="none" stroke="#1a1a1a" stroke-width="1.3"/>
<text x="398.00" y="1025.80" font-size="10.8" text-anchor="end" fill="#111" >60</text>
<line x1="404.00" y1="1022.00" x2="411.80" y2="1022.00" stroke="#111" stroke-width="1.3" />
<text x="467.00" y="1046.60" font-size="11.8" text-anchor="middle" fill="#111" >α-pSyk</text>
<line x1="418.20" y1="1043.40" x2="445.01" y2="1043.40" stroke="#111" stroke-width="1.3" />
<line x1="488.99" y1="1043.40" x2="515.80" y2="1043.40" stroke="#111" stroke-width="1.3" />
<clipPath id="c26"><rect x="418.20" y="1007.80" width="97.60" height="25.90"/></clipPath>
<rect x="418.20" y="1007.80" width="97.60" height="25.90" fill="url(#lg27)"/>
<g clip-path="url(#c26)">
<rect x="427.10" y="1019.70" width="32.30" height="8.00" rx="3.20" ry="4.00" fill="#1a1a1a" opacity="1.0" filter="url(#g14)"/>
<rect x="472.60" y="1019.30" width="33.30" height="6.00" rx="2.40" ry="3.00" fill="#5a5a5a" opacity="1.0" filter="url(#g15)"/>
<rect x="418.20" y="1007.80" width="97.60" height="25.90" fill="#fff" filter="url(#nz)" opacity="0.14"/>
</g>
<rect x="418.20" y="1007.80" width="97.60" height="25.90" fill="none" stroke="#1a1a1a" stroke-width="1.3"/>
<text x="398.00" y="1076.60" font-size="10.8" text-anchor="end" fill="#111" >80</text>
<line x1="404.00" y1="1072.80" x2="411.80" y2="1072.80" stroke="#111" stroke-width="1.3" />
<text x="467.00" y="1098.00" font-size="11.8" text-anchor="middle" fill="#111" >α-pSTAT5</text>
<line x1="418.20" y1="1094.80" x2="437.36" y2="1094.80" stroke="#111" stroke-width="1.3" />
<line x1="496.64" y1="1094.80" x2="515.80" y2="1094.80" stroke="#111" stroke-width="1.3" />
<clipPath id="c27"><rect x="418.20" y="1059.10" width="97.60" height="26.00"/></clipPath>
<rect x="418.20" y="1059.10" width="97.60" height="26.00" fill="#e8e8e8"/>
<g clip-path="url(#c27)">
<path d="M433.50,1070.50 L461.50,1069.40 A2.20,2.20 0 0 1 461.50,1073.80 L433.50,1072.70 A1.10,1.10 0 0 1 433.50,1070.50 Z" fill="#1a1a1a" opacity="1.0" filter="url(#g11)"/>
<path d="M478.00,1069.80 L506.50,1069.20 A1.60,1.60 0 0 1 506.50,1072.40 L478.00,1071.80 A1.00,1.00 0 0 1 478.00,1069.80 Z" fill="#555" opacity="1.0" filter="url(#g11)"/>
<rect x="418.20" y="1059.10" width="97.60" height="26.00" fill="#fff" filter="url(#nz)" opacity="0.1"/>
</g>
<rect x="418.20" y="1059.10" width="97.60" height="26.00" fill="none" stroke="#1a1a1a" stroke-width="1.3"/>
<text x="398.00" y="1127.50" font-size="10.8" text-anchor="end" fill="#111" >70</text>
<line x1="404.00" y1="1123.70" x2="411.80" y2="1123.70" stroke="#111" stroke-width="1.3" />
<text x="467.00" y="1148.70" font-size="11.8" text-anchor="middle" fill="#111" >α-pSTAT3</text>
<line x1="418.20" y1="1145.50" x2="437.36" y2="1145.50" stroke="#111" stroke-width="1.3" />
<line x1="496.64" y1="1145.50" x2="515.80" y2="1145.50" stroke="#111" stroke-width="1.3" />
<clipPath id="c28"><rect x="418.20" y="1109.80" width="97.60" height="26.00"/></clipPath>
<rect x="418.20" y="1109.80" width="97.60" height="26.00" fill="url(#lg29)"/>
<g clip-path="url(#c28)">
<rect x="430.20" y="1118.70" width="34.30" height="8.00" rx="3.20" ry="4.00" fill="#555" opacity="1.0" filter="url(#g22)"/>
<rect x="471.60" y="1120.00" width="34.30" height="6.00" rx="2.40" ry="3.00" fill="#8a8a8a" opacity="1.0" filter="url(#g22)"/>
<rect x="418.20" y="1109.80" width="97.60" height="26.00" fill="#fff" filter="url(#nz)" opacity="0.32"/>
</g>
<rect x="418.20" y="1109.80" width="97.60" height="26.00" fill="none" stroke="#1a1a1a" stroke-width="1.3"/>
<text x="398.00" y="1187.10" font-size="10.8" text-anchor="end" fill="#111" >40</text>
<line x1="404.00" y1="1183.30" x2="411.80" y2="1183.30" stroke="#111" stroke-width="1.3" />
<text x="467.00" y="1206.80" font-size="11.8" text-anchor="middle" fill="#111" >α-actin</text>
<line x1="418.20" y1="1203.60" x2="445.66" y2="1203.60" stroke="#111" stroke-width="1.3" />
<line x1="488.34" y1="1203.60" x2="515.80" y2="1203.60" stroke="#111" stroke-width="1.3" />
<clipPath id="c29"><rect x="418.20" y="1164.50" width="97.60" height="29.40"/></clipPath>
<rect x="418.20" y="1164.50" width="97.60" height="29.40" fill="url(#lg30)"/>
<g clip-path="url(#c29)">
<rect x="426.50" y="1177.00" width="40.00" height="8.00" rx="3.20" ry="4.00" fill="#111" opacity="1.0" filter="url(#g12)"/>
<rect x="468.00" y="1175.75" width="44.70" height="8.50" rx="3.40" ry="4.25" fill="#111" opacity="1.0" filter="url(#g12)"/>
<rect x="418.20" y="1164.50" width="97.60" height="29.40" fill="#fff" filter="url(#nz)" opacity="0.1"/>
</g>
<rect x="418.20" y="1164.50" width="97.60" height="29.40" fill="none" stroke="#1a1a1a" stroke-width="1.3"/>
<text x="446.90" y="1227.30" font-size="14.0" text-anchor="middle" fill="#111" >1</text>
<text x="490.50" y="1227.30" font-size="14.0" text-anchor="middle" fill="#111" >2</text>
</svg>
</body></html>
